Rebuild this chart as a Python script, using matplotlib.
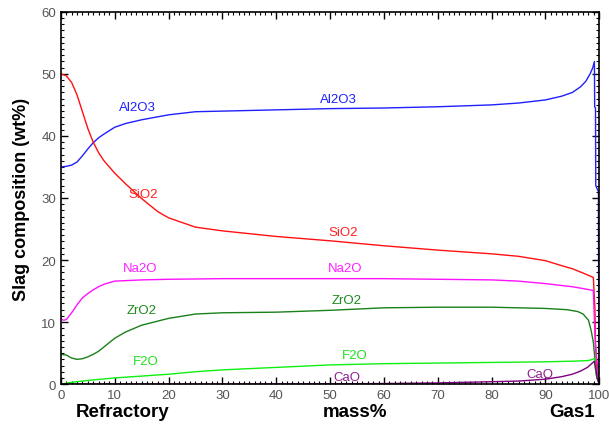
import numpy as np
import matplotlib
matplotlib.use('Agg')
from matplotlib import pyplot as plt
from matplotlib.ticker import MultipleLocator

plt.rcParams['font.family'] = ['Liberation Sans', 'DejaVu Sans']

# series (x = mass%, y = wt%)
al_x = [0, 1, 2, 3, 4, 5, 6, 7, 8, 10, 12, 15, 20, 25, 30, 40, 50, 60, 70, 80, 85, 90, 93, 95, 96.5, 97.5, 98.3, 98.8, 99.1, 99.15, 99.3, 99.35, 99.85, 99.9, 100]
al_y = [35, 35.1, 35.3, 35.8, 36.8, 37.9, 38.9, 39.7, 40.3, 41.4, 42.0, 42.6, 43.4, 43.9, 44.0, 44.2, 44.4, 44.5, 44.7, 45.0, 45.3, 45.8, 46.4, 47.0, 47.9, 48.8, 50.0, 51.0, 52.0, 44.7, 44.5, 32, 31, 10, 0]

si_x = [0, 1, 2, 3, 4, 5, 6, 7, 8, 10, 12, 15, 18, 20, 25, 30, 40, 50, 60, 70, 80, 85, 90, 93, 95, 97, 98.9, 99.2, 99.3, 100]
si_y = [50, 49.7, 48.6, 46.6, 43.9, 41.2, 39.0, 37.3, 36.0, 34.0, 32.3, 29.9, 27.8, 26.8, 25.3, 24.7, 23.8, 23.1, 22.3, 21.6, 21.0, 20.6, 19.9, 19.1, 18.6, 17.9, 17.2, 12, 6, 0]

na_x = [0, 0.5, 1, 2, 3, 4, 5, 6, 7, 8, 10, 15, 20, 30, 50, 60, 70, 80, 85, 90, 93, 95, 97, 98.9, 99.2, 99.6, 100]
na_y = [10.5, 10.3, 10.4, 11.5, 12.8, 13.9, 14.6, 15.2, 15.7, 16.1, 16.6, 16.8, 16.9, 17.0, 17.0, 17.0, 16.9, 16.8, 16.6, 16.2, 15.9, 15.7, 15.4, 15.1, 8, 2, 0]

zr_x = [0, 1, 2, 3, 4, 5, 6, 7, 8, 10, 12, 15, 20, 25, 30, 40, 50, 60, 70, 80, 90, 94, 96, 97, 98, 98.5, 98.9, 99.2, 99.6, 100]
zr_y = [4.8, 4.7, 4.2, 4.0, 4.1, 4.4, 4.8, 5.3, 6.0, 7.4, 8.4, 9.5, 10.6, 11.3, 11.5, 11.6, 11.9, 12.3, 12.4, 12.4, 12.2, 12.0, 11.7, 11.3, 10.3, 8.6, 6.8, 4.0, 1.0, 0]

f_x = [0, 2, 5, 10, 15, 20, 25, 30, 40, 50, 60, 70, 80, 90, 95, 98, 99.1, 99.4, 100]
f_y = [0, 0.3, 0.6, 1.0, 1.3, 1.6, 2.0, 2.3, 2.7, 3.1, 3.3, 3.4, 3.5, 3.6, 3.7, 3.8, 4.1, 1.5, 0]

ca_x = [0, 30, 50, 60, 70, 78, 85, 90, 93, 95, 96.5, 97.8, 99.1, 99.6, 100]
ca_y = [0, 0, 0.05, 0.1, 0.2, 0.35, 0.5, 0.8, 1.2, 1.6, 2.1, 2.7, 3.7, 1.0, 0]

# label positions (x, y) for each species
labels = {
    'Al2O3': ('#2020ff', [(14.3, 44.7), (51.5, 46.0)]),
    'SiO2': ('#ff2020', [(15.2, 30.6), (52.4, 24.5)]),
    'Na2O': ('#ff20ff', [(14.7, 18.7), (52.8, 18.7)]),
    'ZrO2': ('#1a8a1a', [(15.0, 11.9), (53.0, 13.5)]),
    'F2O': ('#20e020', [(15.8, 3.7), (54.6, 4.7)]),
    'CaO': ('#902090', [(53.2, 1.1), (89.0, 1.6)]),
}

fig = plt.figure(figsize=(6.09, 4.27), dpi=100)
ax = fig.add_axes([0.100, 0.098, 0.884, 0.872])

ax.plot(al_x, al_y, color='#2020ff', lw=1.0)
ax.plot(si_x, si_y, color='#ff1010', lw=1.0)
ax.plot(na_x, na_y, color='#ff10ff', lw=1.0)
ax.plot(zr_x, zr_y, color='#1a801a', lw=1.0)
ax.plot(f_x, f_y, color='#10f010', lw=1.0)
ax.plot(ca_x, ca_y, color='#800080', lw=1.0)

for name, (c, pos) in labels.items():
    for (x, y) in pos:
        ax.text(x, y, name, color=c, fontsize=9.5, ha='center', va='center')

ax.set_xlim(0, 100)
ax.set_ylim(0, 60)
ax.xaxis.set_major_locator(MultipleLocator(10))
ax.xaxis.set_minor_locator(MultipleLocator(1))
ax.yaxis.set_major_locator(MultipleLocator(10))
ax.yaxis.set_minor_locator(MultipleLocator(1))
ax.tick_params(which='both', direction='in', top=True, right=True, colors='black',
               labelcolor='#555555', labelsize=9.5)
ax.tick_params(which='major', length=5, width=1)
ax.tick_params(which='minor', length=2.5, width=0.8)
for s in ax.spines.values():
    s.set_linewidth(1.2)

ax.set_ylabel('Slag composition (wt%)', fontsize=13, fontweight='bold', labelpad=8)
fig.text(123 / 609, 1 - 413 / 427, 'Refractory', fontsize=13.5, fontweight='bold', ha='center', va='center')
fig.text(355 / 609, 1 - 413 / 427, 'mass%', fontsize=13.5, fontweight='bold', ha='center', va='center')
fig.text(572 / 609, 1 - 413 / 427, 'Gas1', fontsize=13.5, fontweight='bold', ha='center', va='center')

fig.savefig('out.png', dpi=100)
